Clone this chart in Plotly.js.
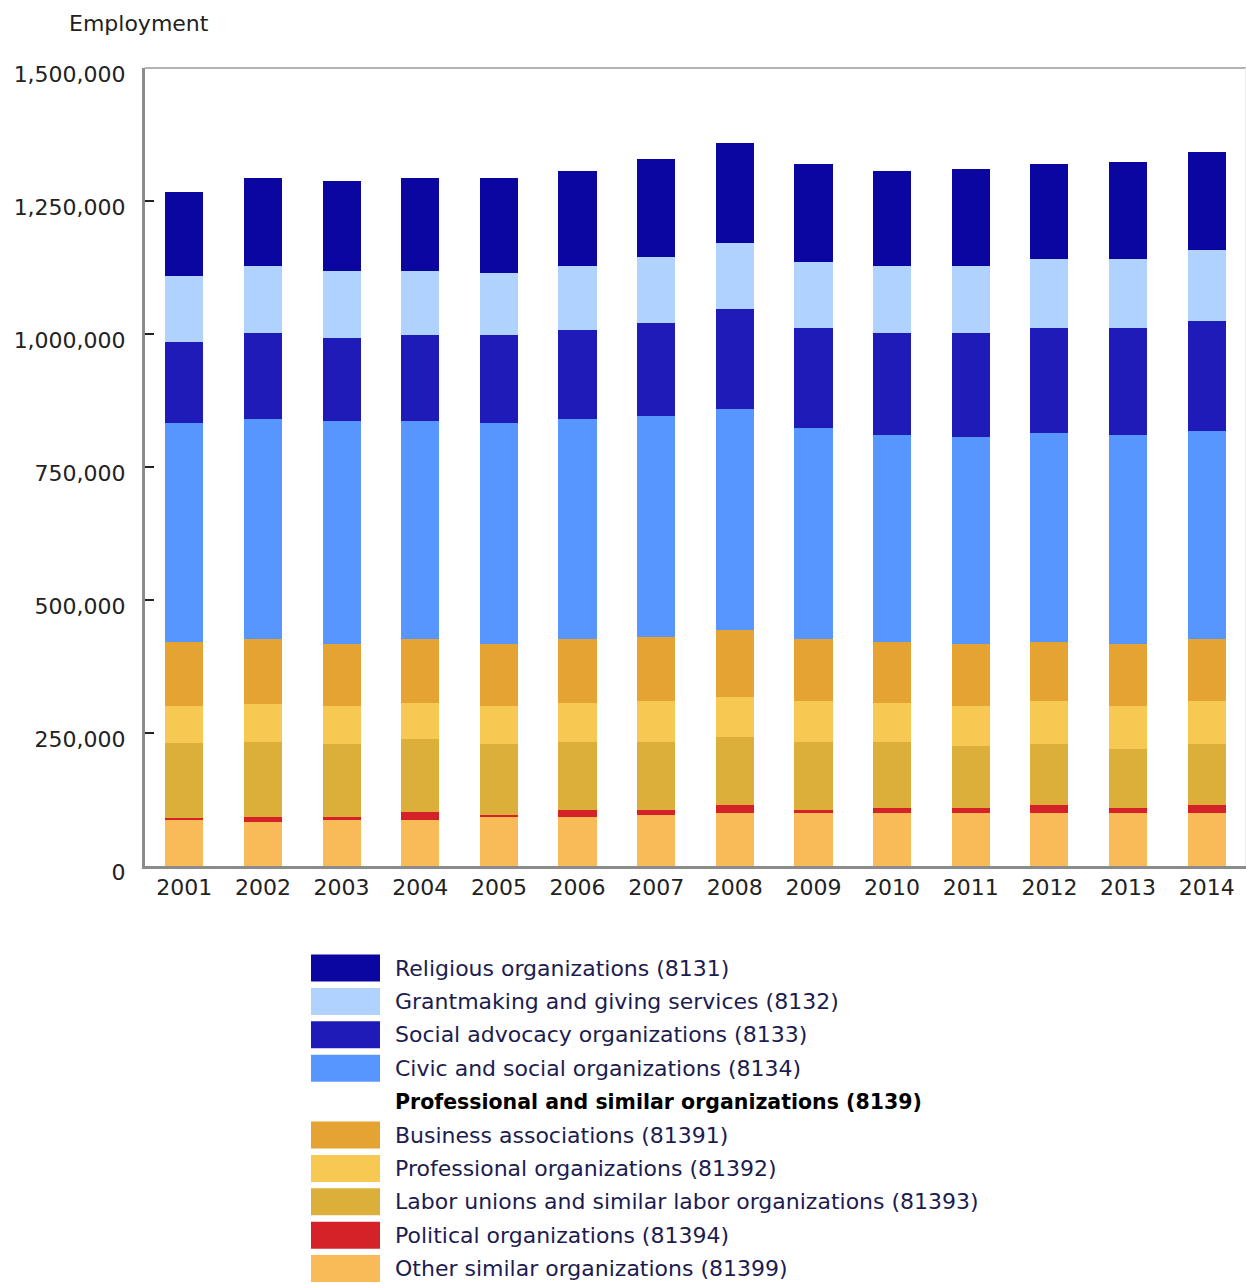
<!DOCTYPE html>
<html>
<head>
<meta charset="utf-8">
<script src="https://cdn.plot.ly/plotly-3.0.1.min.js"></script>
<style>html,body{margin:0;padding:0;background:#fff;}#chart{width:1246px;height:1284px;}</style>
</head>
<body>
<div id="chart"></div>
<script>
var years = ['2001','2002','2003','2004','2005','2006','2007','2008','2009','2010','2011','2012','2013','2014'];

var other        = [86500, 82200, 86500, 86500, 91600, 91600, 95900, 100200, 100200, 100200, 100200, 100200, 100200, 100200];
var political    = [3200, 9400, 5100, 14500, 4300, 13700, 9400, 13900, 5100, 9400, 9400, 13900, 9400, 13900];
var labor        = [141000, 142100, 137800, 137800, 133500, 128400, 128400, 129000, 128400, 124100, 116000, 115300, 111000, 115300];
var professional = [70200, 71500, 71500, 67100, 71500, 72200, 76600, 75300, 76600, 72200, 75300, 80900, 80300, 80900];
var business     = [120900, 121100, 116200, 120400, 116200, 120400, 120000, 125900, 116000, 115900, 116200, 111500, 116200, 116000];
var civic        = [410600, 414800, 419700, 410500, 415300, 414800, 415900, 415100, 397300, 388100, 389000, 393000, 392800, 392200];
var social       = [152400, 161700, 156600, 161100, 165500, 165500, 174300, 187400, 187400, 192400, 196200, 196200, 201100, 205800];
var grant        = [124600, 124100, 124900, 120400, 115900, 120300, 124100, 124700, 124700, 124600, 124600, 129100, 129100, 134000];
var religious    = [156700, 165500, 168500, 174100, 178600, 178700, 183500, 187500, 183700, 178700, 183100, 179300, 183100, 183000];

var names = {
  religious: 'Religious organizations (8131)',
  grant: 'Grantmaking and giving services (8132)',
  social: 'Social advocacy organizations (8133)',
  civic: 'Civic and social organizations (8134)',
  header: 'Professional and similar organizations (8139)',
  business: 'Business associations (81391)',
  professional: 'Professional organizations (81392)',
  labor: 'Labor unions and similar labor organizations (81393)',
  political: 'Political organizations (81394)',
  other: 'Other similar organizations (81399)'
};
var colors = {
  religious: '#0c06a0', grant: '#b0d2ff', social: '#1e1bb8', civic: '#5896ff',
  business: '#e5a431', professional: '#f7c953', labor: '#dbaf3a', political: '#d42228', other: '#f8bb58'
};
var seriesData = {other: other, political: political, labor: labor, professional: professional,
  business: business, civic: civic, social: social, grant: grant, religious: religious};

var stackOrder = ['other','political','labor','professional','business','civic','social','grant','religious'];
var legendOrder = ['religious','grant','social','civic','header','business','professional','labor','political','other'];

var FONT = 'DejaVu Sans, Verdana, sans-serif';

var traces = stackOrder.map(function(k){
  return {type:'bar', x: years, y: seriesData[k], name: names[k],
    marker:{color: colors[k], line:{width:0}}, showlegend:false,
    hovertemplate: '%{x}: %{y:,}<extra>' + names[k] + '</extra>'};
});

// plot area geometry (pixels)
var L = 145, T = 68, W = 1101, H = 798;
function px2paperX(p){ return (p - L) / W; }
function px2paperY(p){ return (T + H - p) / H; }

var shapes = [
  {type:'line', xref:'paper', yref:'paper', x0:0, x1:1, y0:1, y1:1, line:{color:'#b4b4b4', width:2}},
  {type:'line', xref:'paper', yref:'paper', x0:1, x1:1, y0:0, y1:1, line:{color:'#ececec', width:2}}
];
var annotations = [
  {text:'Employment', xref:'paper', yref:'paper', x:px2paperX(67), y:px2paperY(24), xanchor:'left', yanchor:'middle',
   showarrow:false, font:{family:FONT, size:22, color:'#222'}}
];
legendOrder.forEach(function(k, i){
  var cy = 968 + i * 33.4;
  if (k !== 'header') {
    shapes.push({type:'rect', xref:'paper', yref:'paper',
      x0:px2paperX(311), x1:px2paperX(380), y0:px2paperY(cy - 13.5), y1:px2paperY(cy + 13.5),
      fillcolor: colors[k], line:{width:0}});
  }
  annotations.push({text: k === 'header' ? '<b>' + names[k] + '</b>' : names[k],
    xref:'paper', yref:'paper', x:px2paperX(393), y:px2paperY(cy), xanchor:'left', yanchor:'middle',
    showarrow:false, font:{family:FONT, size: k === 'header' ? 20.5 : 22, color: k === 'header' ? '#000' : '#1c1c50'}});
});

var layout = {
  width:1246, height:1284,
  margin:{l:L, r:1246 - L - W, t:T, b:1284 - T - H, pad:0},
  paper_bgcolor:'#fff', plot_bgcolor:'#fff',
  barmode:'stack', bargap:0.515,
  showlegend:false,
  font:{family:FONT, size:22, color:'#222'},
  xaxis:{type:'category', showgrid:false, zeroline:false, showline:true, linecolor:'#8c8c8c', linewidth:3,
    ticks:'', ticklabelstandoff:0, tickfont:{size:22, color:'#222'}},
  yaxis:{range:[0,1500000], dtick:250000, tickformat:',', showgrid:false, zeroline:false,
    showline:true, linecolor:'#8c8c8c', linewidth:3,
    ticks:'inside', ticklen:9, tickwidth:2, tickcolor:'#222', ticklabelstandoff:12, ticklabelshift:6,
    tickfont:{size:22, color:'#222'}},
  shapes: shapes,
  annotations: annotations
};

Plotly.newPlot('chart', traces, layout, {displayModeBar:false, staticPlot:true});
</script>
</body>
</html>
